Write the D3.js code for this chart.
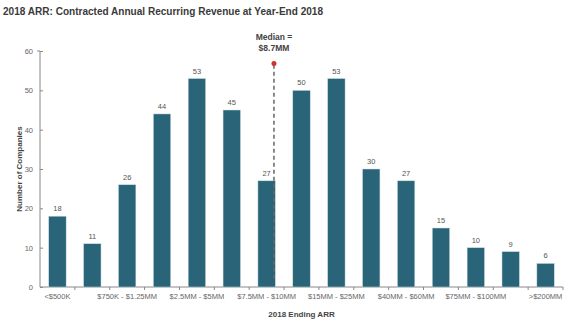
<!DOCTYPE html>
<html><head><meta charset="utf-8">
<script src="https://cdn.jsdelivr.net/npm/d3@7"></script>
<style>body{margin:0;background:#fff;font-family:"Liberation Sans",Arial,sans-serif;}</style>
</head><body><svg id="c" width="587" height="327"></svg>
<script>
const categories = ["<$500K","$500K - $750K","$750K - $1.25MM","$1.25MM - $2.5MM","$2.5MM - $5MM","$5MM - $7.5MM","$7.5MM - $10MM","$10MM - $15MM","$15MM - $25MM","$25MM - $40MM","$40MM - $60MM","$60MM - $75MM","$75MM - $100MM","$100MM - $200MM",">$200MM"];
const values = [18,11,26,44,53,45,27,50,53,30,27,15,10,9,6];
const yTicks = [0,10,20,30,40,50,60];
const medianCategory = "$7.5MM - $10MM";
const medianFraction = 0.92; // position within the category band
const medianLabel = ["Median =","$8.7MM"];

const svg = d3.select("#c");
const m = {l:40, r:563, t:51, b:287};
const x = d3.scaleBand().domain(categories).range([m.l, m.r]).paddingInner(0.5).paddingOuter(0.25);
const y = d3.scaleLinear().domain([0,60]).range([m.b, m.t]);

svg.append("text").attr("x",3).attr("y",15).attr("font-size",11.8).attr("font-weight","bold")
  .attr("fill","#3a3a3a").attr("textLength",320).attr("lengthAdjust","spacingAndGlyphs")
  .text("2018 ARR: Contracted Annual Recurring Revenue at Year-End 2018");

// y axis
const ya = svg.append("g").attr("transform",`translate(${m.l},0)`)
  .call(d3.axisLeft(y).tickValues(yTicks).tickSize(3).tickPadding(4));
ya.select(".domain").attr("stroke","#888").attr("d",`M-3,${y(60)}H0V${m.b}`);
ya.selectAll(".tick line").attr("stroke","#888").attr("x1",0).attr("x2",3);
ya.selectAll("text").attr("font-size",7.5).attr("fill","#666").attr("font-family","Liberation Sans, Arial, sans-serif");

// x axis
const xa = svg.append("g").attr("transform",`translate(0,${m.b})`)
  .call(d3.axisBottom(x).tickSize(0).tickPadding(7).tickFormat((d,i)=> i%2===0 ? d : ""));
xa.select(".domain").attr("stroke","#888").attr("d",`M${m.l},0H${m.r}`);
xa.selectAll("text").attr("font-size",7.5).attr("fill","#666").attr("font-family","Liberation Sans, Arial, sans-serif");
// boundary ticks
const bounds = categories.slice(1).map(c => x(c) - x.step()*x.paddingInner()/2);
bounds.push(m.r);
xa.selectAll(".bt").data(bounds).enter().append("line").attr("class","bt")
  .attr("x1",d=>d).attr("x2",d=>d).attr("y1",0).attr("y2",3).attr("stroke","#888");

// bars
svg.append("g").selectAll("rect").data(values).enter().append("rect")
  .attr("x",(d,i)=>x(categories[i])).attr("width",x.bandwidth())
  .attr("y",d=>y(d)).attr("height",d=>m.b-y(d))
  .attr("fill","#2a6478").attr("stroke","#cfe0e6").attr("stroke-width",0.5);

svg.append("g").selectAll("text").data(values).enter().append("text")
  .attr("x",(d,i)=>x(categories[i])+x.bandwidth()/2).attr("y",d=>y(d)-5)
  .attr("text-anchor","middle").attr("font-size",7.5).attr("fill","#555").text(d=>d);

// median
const mx = x(medianCategory) + x.bandwidth()*medianFraction;
svg.append("line").attr("x1",mx).attr("x2",mx).attr("y1",y(56.5)).attr("y2",y(1.5))
  .attr("stroke","#666").attr("stroke-width",1.5).attr("stroke-dasharray","4,3");
svg.append("circle").attr("cx",mx).attr("cy",y(56.8)).attr("r",2.5).attr("fill","#d22f2f");
svg.append("text").attr("x",mx).attr("y",40).attr("text-anchor","middle").attr("font-size",8.5)
  .attr("font-weight","bold").attr("fill","#444").selectAll("tspan").data(medianLabel).enter()
  .append("tspan").attr("x",mx).attr("dy",(d,i)=>i?11:0).text(d=>d);

// axis titles
svg.append("text").attr("x",(m.l+m.r)/2).attr("y",317).attr("text-anchor","middle").attr("font-size",8)
  .attr("font-weight","bold").attr("fill","#444").text("2018 Ending ARR");
svg.append("text").attr("transform",`translate(22,${(m.t+m.b)/2}) rotate(-90)`).attr("text-anchor","middle")
  .attr("font-size",8).attr("font-weight","bold").attr("fill","#444").text("Number of Companies");
</script></body></html>
